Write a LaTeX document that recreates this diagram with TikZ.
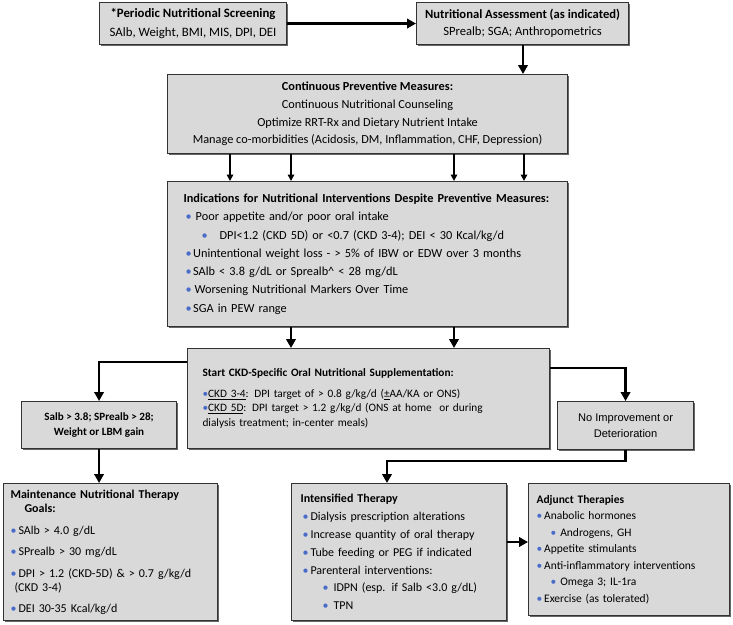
\documentclass[tikz,border=0pt]{standalone}
\usepackage{fontspec}
\setmainfont{Carlito}
\newfontfamily\arialf{Liberation Sans}
\usetikzlibrary{arrows.meta,shadows}
\definecolor{boxgray}{HTML}{D9D9D9}
\definecolor{bblue}{HTML}{4A6CC8}
\newcommand\bl{\textcolor{bblue}{\textbullet}}
\begin{document}
\begin{tikzpicture}[x=1pt,y=-1pt,
  box/.style={draw=black!80, line width=1.1pt, fill=boxgray,
    drop shadow={shadow xshift=1pt,shadow yshift=-1pt,fill=black!60,opacity=1},
    inner ysep=0pt, anchor=north west},
  conn/.style={line width=2.2pt, -{Triangle[length=9pt,width=9.5pt]}},
  sarr/.style={line width=1.6pt, -{Triangle[length=6.5pt,width=6.5pt]}}
]
\useasboundingbox (0,0) rectangle (733,624);

% boxes
\node[box, minimum width=187, minimum height=42, inner xsep=0, align=center,
  font=\fontsize{12.8}{19}\selectfont] (scr) at (99,2)
  {\textbf{*Periodic Nutritional Screening}\\SAlb, Weight, BMI, MIS, DPI, DEI};
\node[box, minimum width=212, minimum height=42, inner xsep=0, align=center,
  font=\fontsize{12.6}{17}\selectfont] (ass) at (416,2)
  {\textbf{Nutritional Assessment (as indicated)}\\SPrealb; SGA; Anthropometrics};
\node[box, minimum width=400, minimum height=79, inner xsep=0, align=center,
  font=\fontsize{12.3}{17.7}\selectfont] (prev) at (167,74)
  {\textbf{Continuous Preventive Measures:}\\
   Continuous Nutritional Counseling\\
   Optimize RRT-Rx and Dietary Nutrient Intake\\
   Manage co-morbidities (Acidosis, DM, Inflammation, CHF, Depression)};
\node[box, minimum width=400, minimum height=145, inner xsep=8, text width=384, align=left,
  font=\fontsize{12.3}{18.3}\selectfont] (ind) at (167,181)
  {\hspace*{8pt}\textbf{Indications for Nutritional Interventions Despite Preventive Measures:}\\
   \hspace*{10pt}\bl\hspace{4pt}Poor appetite and/or poor oral intake\\
   \hspace*{26pt}\bl\hspace{12pt}DPI<1.2 (CKD 5D) or <0.7 (CKD 3-4); DEI < 30 Kcal/kg/d\\
   \hspace*{10pt}\bl\hspace{1.5pt}Unintentional weight loss - > 5\% of IBW or EDW over 3 months\\
   \hspace*{10pt}\bl\hspace{1.5pt}SAlb < 3.8 g/dL or Sprealb\textasciicircum{} < 28 mg/dL\\
   \hspace*{10pt}\bl\hspace{3pt}Worsening Nutritional Markers Over Time\\
   \hspace*{10pt}\bl\hspace{1.5pt}SGA in PEW range};
\node[box, minimum width=362, minimum height=100, inner xsep=8, text width=346, align=left,
  font=\fontsize{11.3}{14.5}\selectfont] (start) at (187,348)
  {\hspace*{7pt}\textbf{Start CKD-Specific Oral Nutritional Supplementation:}\\[6pt]
   \hspace*{7pt}\bl\underline{CKD 3-4}: DPI target of > 0.8 g/kg/d (\underline{±}AA/KA or ONS)\\
   \hspace*{7pt}\bl\underline{CKD 5D}: DPI target > 1.2 g/kg/d (ONS at home\ \ or during\\
   \hspace*{7pt}dialysis treatment; in-center meals)};
\node[box, minimum width=155, minimum height=47, inner xsep=0, align=center,
  font=\fontsize{11.1}{15.5}\selectfont\bfseries] (salb) at (21,401)
  {Salb > 3.8; SPrealb > 28;\\Weight or LBM gain};
\node[box, minimum width=136, minimum height=48, inner xsep=0, align=center,
  font=\arialf\fontsize{11.1}{15.5}\selectfont] (noimp) at (557,401)
  {No Improvement or\\Deterioration};
\node[box, minimum width=214, minimum height=137, inner xsep=4, text width=206, align=left,
  font=\fontsize{12}{14.5}\selectfont] (maint) at (3,483)
  {\hspace*{3pt}\textbf{Maintenance Nutritional Therapy}\\
   \hspace*{17pt}\textbf{Goals:}\\[7pt]
   \hspace*{3pt}\bl\,SAlb > 4.0 g/dL\\[7pt]
   \hspace*{3pt}\bl\,SPrealb > 30 mg/dL\\[7pt]
   \hspace*{3pt}\bl\,DPI > 1.2 (CKD-5D) \& > 0.7 g/kg/d\\
   \hspace*{7pt}(CKD 3-4)\\[6pt]
   \hspace*{3pt}\bl\,DEI 30-35 Kcal/kg/d};
\node[box, minimum width=215, minimum height=137, inner xsep=4, text width=207, align=left,
  font=\fontsize{12}{17.8}\selectfont] (inten) at (291,483)
  {\hspace*{5pt}\textbf{Intensified Therapy}\\
   \hspace*{7pt}\bl\,Dialysis prescription alterations\\
   \hspace*{7pt}\bl\,Increase quantity of oral therapy\\
   \hspace*{7pt}\bl\,Tube feeding or PEG if indicated\\
   \hspace*{7pt}\bl\,Parenteral interventions:\\
   \hspace*{27pt}\bl\hspace{5pt}IDPN (esp. if Salb <3.0 g/dL)\\
   \hspace*{27pt}\bl\hspace{5pt}TPN};
\node[box, minimum width=201, minimum height=132, inner xsep=4, text width=193, align=left,
  font=\fontsize{11.5}{16.5}\selectfont] (adj) at (528,483)
  {\hspace*{4pt}\textbf{Adjunct Therapies}\\
   \hspace*{4pt}\bl\,Anabolic hormones\\
   \hspace*{18pt}\bl\hspace{4pt}Androgens, GH\\
   \hspace*{4pt}\bl\,Appetite stimulants\\
   \hspace*{4pt}\bl\,Anti-inflammatory interventions\\
   \hspace*{18pt}\bl\hspace{4pt}Omega 3; IL-1ra\\
   \hspace*{4pt}\bl\,Exercise (as tolerated)};

% helper coordinates
\coordinate (x523) at (523,0);
\coordinate (x230) at (230,0);
\coordinate (x291) at (291,0);
\coordinate (x454) at (454,0);
\coordinate (x524) at (524,0);
\coordinate (yL) at (0,362);
\coordinate (yR) at (0,368);
\coordinate (cI) at (387,461);
\coordinate (yA) at (0,542);

% connectors
\draw[conn] (scr.east) -- (scr.east -| ass.west);
\draw[conn] (ass.south -| x523) -- (prev.north -| x523);
\foreach \c in {x230,x291,x454,x524}
  \draw[sarr] (prev.south -| \c) -- (ind.north -| \c);
\draw[conn] (ind.south -| x291) -- (start.north -| x291);
\draw[conn] (ind.south -| x454) -- (start.north -| x454);
\draw[conn] (start.west |- yL) -| (salb.north);
\draw[conn] (start.east |- yR) -| (noimp.north);
\draw[conn] (noimp.south) |- (cI) -- (cI |- inten.north);
\draw[conn] (salb.south) -- (salb.south |- maint.north);
\draw[conn] (inten.east |- yA) -- (adj.west |- yA);
\end{tikzpicture}
\end{document}
